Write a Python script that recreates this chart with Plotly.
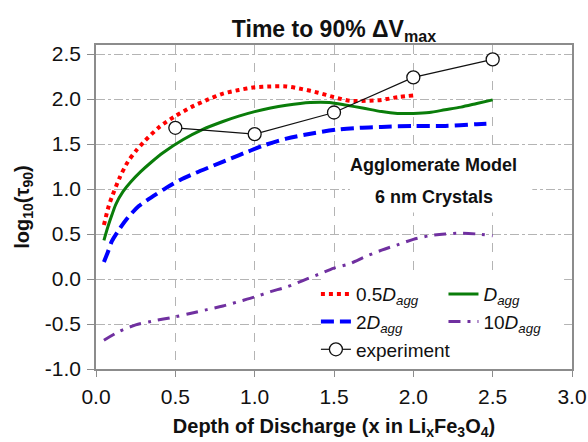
import plotly.graph_objects as go

# Depth of discharge (x in LixFe3O4) and log10 of time to 90% of max voltage change
half_x = [0.05, 0.08, 0.1, 0.15, 0.2, 0.25, 0.3, 0.4, 0.5, 0.6, 0.7, 0.8, 0.9, 1.0,
          1.1, 1.2, 1.3, 1.4, 1.5, 1.6, 1.7, 1.8, 1.9, 2.0]
half_y = [0.60, 0.81, 0.91, 1.13, 1.30, 1.42, 1.52, 1.69, 1.81, 1.91, 1.99, 2.06, 2.10, 2.13,
          2.14, 2.14, 2.11, 2.07, 2.02, 1.98, 1.98, 1.99, 2.02, 2.04]

one_x = [0.05, 0.075, 0.1, 0.125, 0.17, 0.22, 0.28, 0.35, 0.42, 0.55, 0.67, 0.8, 0.9, 1.0,
         1.1, 1.2, 1.35, 1.47, 1.58, 1.68, 1.8, 1.9, 2.0, 2.1, 2.2, 2.3, 2.4, 2.5]
one_y = [0.43, 0.58, 0.71, 0.83, 0.97, 1.08, 1.19, 1.30, 1.40, 1.55, 1.66, 1.75, 1.81, 1.86,
         1.90, 1.93, 1.96, 1.96, 1.93, 1.90, 1.86, 1.84, 1.84, 1.85, 1.88, 1.91, 1.95, 1.99]

two_x = [0.05, 0.075, 0.1, 0.15, 0.2, 0.27, 0.36, 0.44, 0.53, 0.63, 0.74, 0.85, 0.95, 1.05,
         1.2, 1.37, 1.52, 1.66, 1.8, 2.0, 2.2, 2.4, 2.5]
two_y = [0.19, 0.30, 0.42, 0.56, 0.68, 0.81, 0.92, 1.01, 1.10, 1.18, 1.26, 1.34, 1.41, 1.48,
         1.56, 1.62, 1.66, 1.68, 1.69, 1.70, 1.70, 1.72, 1.73]

ten_x = [0.05, 0.15, 0.25, 0.35, 0.5, 0.6, 0.7, 0.8, 0.9, 1.0, 1.1, 1.2, 1.3, 1.4, 1.5,
         1.6, 1.7, 1.8, 1.9, 2.0, 2.1, 2.2, 2.3, 2.4, 2.5]
ten_y = [-0.68, -0.58, -0.51, -0.47, -0.42, -0.38, -0.34, -0.30, -0.25, -0.20, -0.14, -0.09,
         -0.02, 0.05, 0.12, 0.17, 0.25, 0.32, 0.38, 0.44, 0.48, 0.50, 0.51, 0.50, 0.48]

exp_x = [0.5, 1.0, 1.5, 2.0, 2.5]
exp_y = [1.68, 1.61, 1.85, 2.24, 2.44]

x_ticks = [0.0, 0.5, 1.0, 1.5, 2.0, 2.5, 3.0]
y_ticks = [-1.0, -0.5, 0.0, 0.5, 1.0, 1.5, 2.0, 2.5]

FONT = "Liberation Sans, Arial, sans-serif"
INK = "#111111"
GRID = "#b4b4b4"
SPL = dict(shape="spline", smoothing=0.8)

fig = go.Figure()

fig.add_trace(go.Scatter(
    x=half_x, y=half_y, mode="lines", name="0.5<i>D<sub>agg</sub></i>",
    line=dict(color="#ff0000", width=4, dash="4px,4px", **SPL),
    legend="legend", legendrank=1))
fig.add_trace(go.Scatter(
    x=two_x, y=two_y, mode="lines", name="2<i>D<sub>agg</sub></i>",
    line=dict(color="#0000ff", width=4, dash="13px,6px", **SPL),
    legend="legend", legendrank=2))
fig.add_trace(go.Scatter(
    x=one_x, y=one_y, mode="lines", name="<i>D<sub>agg</sub></i>",
    line=dict(color="#0a7d0a", width=3, **SPL),
    legend="legend2", legendrank=1))
fig.add_trace(go.Scatter(
    x=ten_x, y=ten_y, mode="lines", name="10<i>D<sub>agg</sub></i>",
    line=dict(color="#7030a0", width=3, dash="12px,7px,3px,7px", **SPL),
    legend="legend2", legendrank=2))
fig.add_trace(go.Scatter(
    x=exp_x, y=exp_y, mode="lines+markers", name="experiment",
    line=dict(color=INK, width=1.2),
    marker=dict(symbol="circle", size=13, color="white",
                line=dict(color=INK, width=1.3)),
    legend="legend", legendrank=3))

# white panels behind the legend and the model label
fig.add_shape(type="rect", xref="x", yref="y", x0=1.42, x1=2.95, y0=-0.93, y1=0.04,
              fillcolor="white", line=dict(width=0), layer="between")
fig.add_shape(type="rect", xref="x", yref="y", x0=1.6, x1=2.75, y0=0.74, y1=1.45,
              fillcolor="white", line=dict(width=0), layer="between")

fig.add_annotation(x=2.13, y=1.27, xref="x", yref="y", text="<b>Agglomerate Model</b>",
                   showarrow=False, font=dict(family=FONT, size=18, color=INK))
fig.add_annotation(x=2.13, y=0.91, xref="x", yref="y", text="<b>6 nm Crystals</b>",
                   showarrow=False, font=dict(family=FONT, size=18, color=INK))

legend_common = dict(bgcolor="rgba(0,0,0,0)", borderwidth=0, tracegroupgap=0,
                     font=dict(family=FONT, size=19, color=INK),
                     xanchor="left", yanchor="top", itemwidth=30, traceorder="normal")

fig.update_layout(
    width=588, height=442,
    margin=dict(l=96, r=16, t=45, b=73, autoexpand=False),
    paper_bgcolor="white", plot_bgcolor="white",
    font=dict(family=FONT, color=INK),
    title=dict(text="<b>Time to 90% ΔV<sub>max</sub></b>", x=(96 + 572) / 2 / 588,
               xanchor="center", y=1 - 29 / 442, yanchor="middle",
               font=dict(family=FONT, size=23, color=INK)),
    legend=dict(x=0.462, y=0.29, **legend_common),
    legend2=dict(x=0.73, y=0.29, **legend_common),
    showlegend=True,
)

fig.update_xaxes(
    range=[0, 3], tickvals=x_ticks, ticktext=[f"{v:.1f}" for v in x_ticks],
    automargin=False,
    showline=True, linecolor="#8c8c8c", linewidth=1.5, mirror=True,
    ticks="outside", ticklen=6, tickcolor="#8c8c8c", tickwidth=1.2,
    ticklabelstandoff=2,
    showgrid=True, gridcolor=GRID, gridwidth=1, griddash="dash",
    zeroline=False, tickfont=dict(family=FONT, size=21, color=INK),
    title=dict(text="<b>Depth of Discharge (x in Li<sub>x</sub>Fe<sub>3</sub>O<sub>4</sub>)</b>",
               font=dict(family=FONT, size=20, color=INK), standoff=12))

fig.update_yaxes(
    range=[-1, 2.6], tickvals=y_ticks, ticktext=[f"{v:.1f}" for v in y_ticks],
    automargin=False,
    showline=True, linecolor="#8c8c8c", linewidth=1.5, mirror=True,
    ticks="outside", ticklen=7, tickcolor="#8c8c8c", tickwidth=1.2,
    ticklabelstandoff=2,
    showgrid=True, gridcolor=GRID, gridwidth=1, griddash="dashdot",
    zeroline=False, tickfont=dict(family=FONT, size=21, color=INK),
    title=dict(text="<b>log<sub>10</sub>(τ<sub>90</sub>)</b>",
               font=dict(family=FONT, size=20, color=INK), standoff=10))

fig.write_html("out.html")
